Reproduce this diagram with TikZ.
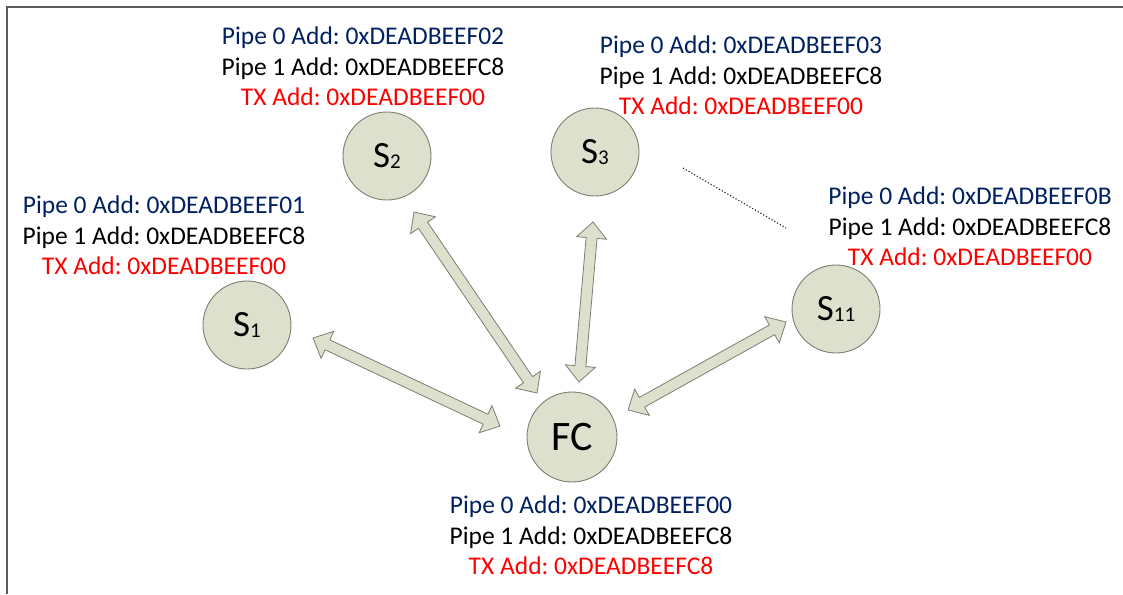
\documentclass[tikz,border=0pt]{standalone}
\usepackage{fontspec}
\setmainfont{Carlito}
\usetikzlibrary{calc}
\frenchspacing

\definecolor{nodefill}{RGB}{221,224,204}
\definecolor{nodeline}{RGB}{125,125,115}
\definecolor{pipeblue}{RGB}{0,32,96}
\definecolor{txred}{RGB}{255,0,0}
\definecolor{framegray}{RGB}{90,90,90}

\tikzset{
  station/.style={circle, draw=nodeline, line width=0.9pt, fill=nodefill,
    minimum size=88pt, inner sep=0pt, font=\fontsize{37}{37}\selectfont},
  hub/.style={station, minimum size=90pt, font=\fontsize{42}{42}\selectfont},
  addrblock/.style={align=center, inner sep=0pt, anchor=north,
    font=\fontsize{25.5}{30.3}\selectfont},
  linkarrow/.style={draw=nodeline, line width=0.8pt, fill=nodefill, line join=miter},
  framerule/.style={draw=framegray, line width=1.4pt},
  rangedots/.style={draw=black!80, line width=1.2pt, dotted},
}

% small index after the station letter
\newcommand\stn[1]{{\fontsize{21}{21}\selectfont\raisebox{-1pt}{#1}}}

% block arrow with a head at both ends, from tip #1 to tip #2
\newcommand\biarrow[2]{%
  \draw[linkarrow] (#1)
    -- ($(#1)!16pt!(#2)!15pt!90:(#2)$)
    -- ($(#1)!16pt!(#2)!5.5pt!90:(#2)$)
    -- ($(#2)!16pt!(#1)!5.5pt!-90:(#1)$)
    -- ($(#2)!16pt!(#1)!15pt!-90:(#1)$)
    -- (#2)
    -- ($(#2)!16pt!(#1)!15pt!90:(#1)$)
    -- ($(#2)!16pt!(#1)!5.5pt!90:(#1)$)
    -- ($(#1)!16pt!(#2)!5.5pt!-90:(#2)$)
    -- ($(#1)!16pt!(#2)!15pt!-90:(#2)$)
    -- cycle;}

\newcommand\addr[3]{\textcolor{pipeblue}{Pipe 0 Add: #1}\\
  Pipe 1 Add: #2\\ \textcolor{txred}{TX Add: #3}}

\begin{document}
\begin{tikzpicture}[x=1pt, y=-1pt]
  \useasboundingbox (0,0) rectangle (1123,594);

  % frame edges
  \coordinate (frameTL) at (7,7);
  \coordinate (frameTR) at (1123,7);
  \coordinate (frameBL) at (7,594);
  \draw[framerule] (frameTR) -- (frameTL) -- (frameBL);

  % stations
  \node[station] (s1) at (247,325) {S\stn{1}};
  \node[station] (s2) at (387,156) {S\stn{2}};
  \node[station] (s3) at (595,152) {S\stn{3}};
  \node[station] (s11) at (836,309) {S\stn{11}};
  \node[hub] (fc) at (572,437) {FC};

  % address tables
  \node[addrblock] (a2) at (363,27) {\addr{0xDEADBEEF02}{0xDEADBEEFC8}{0xDEADBEEF00}};
  \node[addrblock] (a3) at (741,36) {\addr{0xDEADBEEF03}{0xDEADBEEFC8}{0xDEADBEEF00}};
  \node[addrblock] (a1) at (164,196) {\addr{0xDEADBEEF01}{0xDEADBEEFC8}{0xDEADBEEF00}};
  \node[addrblock] (a11) at (970,187) {\addr{0xDEADBEEF0B}{0xDEADBEEFC8}{0xDEADBEEF00}};
  \node[addrblock] (afc) at (591,496) {\addr{0xDEADBEEF00}{0xDEADBEEFC8}{0xDEADBEEFC8}};

  % arrow tips
  \coordinate (l1s) at (313,338);  \coordinate (l1f) at (500,426);
  \coordinate (l2s) at (414,212);  \coordinate (l2f) at (537,393);
  \coordinate (l3s) at (593,222);  \coordinate (l3f) at (579,382);
  \coordinate (l11s) at (786,322); \coordinate (l11f) at (628,410);

  \biarrow{l1s}{l1f}
  \biarrow{l2s}{l2f}
  \biarrow{l3s}{l3f}
  \biarrow{l11s}{l11f}

  % stations in between S3 and S11
  \coordinate (gapA) at (683,168);
  \coordinate (gapB) at (786,228);
  \draw[rangedots] (gapA) -- (gapB);
\end{tikzpicture}
\end{document}
